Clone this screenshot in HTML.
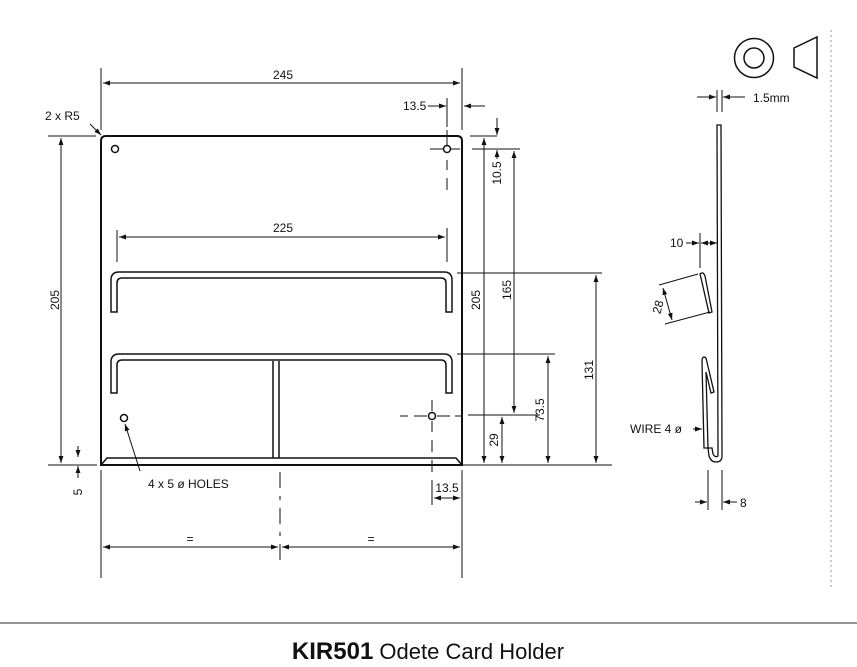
<!DOCTYPE html>
<html><head><meta charset="utf-8"><style>
html,body{margin:0;padding:0;background:#fff;}
svg{display:block;font-family:"Liberation Sans",sans-serif;}
</style></head><body>
<svg width="857" height="667" viewBox="0 0 857 667" xmlns="http://www.w3.org/2000/svg">
<defs>
<marker id="a" viewBox="0 0 10 10" refX="10" refY="5" markerWidth="7" markerHeight="7" orient="auto-start-reverse"><path d="M0,1.5 L10,5 L0,8.5 z" fill="#111"/></marker>
</defs>
<g stroke="#111" fill="none" stroke-width="1">
<path d="M101,465 L101,141 Q101,136 106,136 L457,136 Q462,136 462,141 L462,465 Z" stroke-width="2"/>
<path d="M101,465 L107,458 L456,458 L462,465" stroke-width="1.5"/>
<circle cx="115" cy="149" r="3.5" stroke-width="1.5"/>
<circle cx="447" cy="149" r="3.5" stroke-width="1.5"/>
<circle cx="124" cy="418" r="3.5" stroke-width="1.5"/>
<circle cx="432" cy="416" r="3.5" stroke-width="1.5"/>
<path d="M111,312 L111,280 Q111,272 119,272 L444,272 Q452,272 452,280 L452,312 L446,312 L446,283 Q446,278 441,278 L122,278 Q117,278 117,283 L117,312 Z" stroke-width="1.5"/>
<path d="M111,393 L111,362 Q111,354 119,354 L444,354 Q452,354 452,362 L452,393 L446,393 L446,365 Q446,360 441,360 L122,360 Q117,360 117,365 L117,393 Z" stroke-width="1.5"/>
<path d="M273,361 L273,458 M279,361 L279,458" stroke-width="1.5"/>
<path d="M430,149 L443,149 M451,149 L460,149 M447,130 L447,145 M447,160 L447,170 M447,178 L447,190" />
<path d="M101,68 L101,130 M462,68 L462,130"/>
<path d="M103,83 L460,83" marker-start="url(#a)" marker-end="url(#a)"/>
<path d="M447,98 L447,127"/>
<path d="M428,106 L446,106" marker-end="url(#a)"/>
<path d="M485,106 L464,106" marker-end="url(#a)"/>
<path d="M90,124 L101,135" marker-end="url(#a)"/>
<path d="M48,136 L96,136 M48,465 L97,465"/>
<path d="M61,138 L61,463" marker-start="url(#a)" marker-end="url(#a)"/>
<path d="M78,446 L78,457" marker-end="url(#a)"/>
<path d="M78,478 L78,466" marker-end="url(#a)"/>
<path d="M117,230 L117,262 M447,228 L447,262"/>
<path d="M119,237 L445,237" marker-start="url(#a)" marker-end="url(#a)"/>
<path d="M470,136 L497,136 M472,149 L520,149 M457,273 L602,273 M457,354 L555,354 M468,415 L540,415 M463,465 L612,465"/>
<path d="M484,138 L484,463" marker-start="url(#a)" marker-end="url(#a)"/>
<path d="M497,118 L497,135" marker-end="url(#a)"/>
<path d="M497,159 L497,150" marker-end="url(#a)"/>
<path d="M514,151 L514,413" marker-start="url(#a)" marker-end="url(#a)"/>
<path d="M596,275 L596,463" marker-start="url(#a)" marker-end="url(#a)"/>
<path d="M548,356 L548,463" marker-start="url(#a)" marker-end="url(#a)"/>
<path d="M502,417 L502,463" marker-start="url(#a)" marker-end="url(#a)"/>
<path d="M400,416 L408,416 M414,416 L427,416 M437,416 L450,416 M455,416 L462,416 M432,400 L432,411 M432,421 L432,432 M432,440 L432,452 M432,460 L432,472 M432,480 L432,505"/>
<path d="M462,470 L462,505"/>
<path d="M434,498 L460,498" marker-start="url(#a)" marker-end="url(#a)"/>
<path d="M280,472 L280,488 M280,496 L280,500 M280,508 L280,524 M280,532 L280,536 M280,544 L280,560"/>
<path d="M101,470 L101,578 M462,470 L462,578"/>
<path d="M103,547 L278,547" marker-start="url(#a)" marker-end="url(#a)"/>
<path d="M282,547 L460,547" marker-start="url(#a)" marker-end="url(#a)"/>
<path d="M140,471 L125,424" marker-end="url(#a)"/>
<path d="M717,125 L721,125 L722,456 Q722,462 716,462 Q711,462 709,456 L708,448 L712,448 L713,454 Q715,458 718,456 L717,125 Z" stroke-width="1.3"/>
<path d="M708,448 L704,448 L702,362 Q702,355 706,358 L714,392 L711,393 L706,372 L708,448" stroke-width="1.3"/>
<path d="M700,274 Q703,271 705,276 L712,312 L709,313 L701,278 Z" stroke-width="1.3"/>
<path d="M717,90 L717,112 M722,90 L722,112"/>
<path d="M697,97 L716,97" marker-end="url(#a)"/>
<path d="M745,97 L723,97" marker-end="url(#a)"/>
<path d="M700,233 L700,268"/>
<path d="M686,243 L699,243" marker-end="url(#a)"/>
<path d="M701,243 L717,243" marker-start="url(#a)" marker-end="url(#a)"/>
<path d="M665,324 L710,312 M659,285 L698,274"/>
<path d="M663,288 L672,320" marker-start="url(#a)" marker-end="url(#a)"/>
<path d="M693,429 L702,429" marker-end="url(#a)"/>
<path d="M708,470 L708,510 M722,470 L722,510"/>
<path d="M695,502 L707,502" marker-end="url(#a)"/>
<path d="M737,502 L723,502" marker-end="url(#a)"/>
<circle cx="754" cy="58" r="19.5" stroke-width="1.5"/>
<circle cx="754" cy="58" r="10" stroke-width="1.5"/>
<path d="M794,48 L817,37 L817,78 L794,67 Z" stroke-width="1.5"/>
<path d="M831,30 L831,590" stroke="#999" stroke-dasharray="2,3"/>
<path d="M0,623 L857,623" stroke="#555" stroke-width="1.2"/>
</g>
<g fill="#111" font-size="12">
<text x="283" y="79" text-anchor="middle">245</text>
<text x="403" y="110">13.5</text>
<text x="45" y="120">2 x R5</text>
<text x="283" y="232" text-anchor="middle">225</text>
<text transform="translate(59,300) rotate(-90)" text-anchor="middle">205</text>
<text transform="translate(82,492) rotate(-90)" text-anchor="middle">5</text>
<text transform="translate(480,300) rotate(-90)" text-anchor="middle">205</text>
<text transform="translate(511,290) rotate(-90)" text-anchor="middle">165</text>
<text transform="translate(501,173) rotate(-90)" text-anchor="middle">10.5</text>
<text transform="translate(593,370) rotate(-90)" text-anchor="middle">131</text>
<text transform="translate(544,410) rotate(-90)" text-anchor="middle">73.5</text>
<text transform="translate(498,440) rotate(-90)" text-anchor="middle">29</text>
<text x="447" y="492" text-anchor="middle">13.5</text>
<text x="148" y="488">4 x 5 ø HOLES</text>
<text x="190" y="543" text-anchor="middle">=</text>
<text x="371" y="543" text-anchor="middle">=</text>
<text x="753" y="102">1.5mm</text>
<text x="670" y="247">10</text>
<text transform="translate(662,308) rotate(-75)" text-anchor="middle">28</text>
<text x="630" y="433">WIRE 4 ø</text>
<text x="740" y="507">8</text>
</g>
<text x="428" y="659" text-anchor="middle" font-size="22" fill="#111"><tspan font-weight="bold" font-size="24">KIR501</tspan> Odete Card Holder</text>
</svg>
</body></html>
